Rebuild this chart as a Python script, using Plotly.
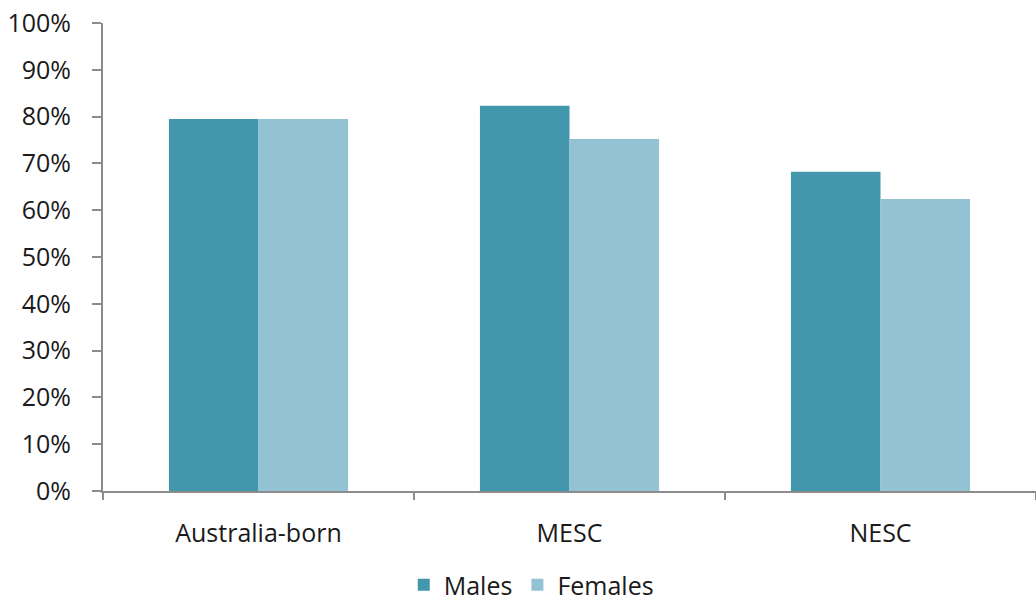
import plotly.graph_objects as go

categories = ["Australia-born", "MESC", "NESC"]
males = [79.5, 82.3, 68.2]
females = [79.5, 75.2, 62.4]
y_ticks = list(range(0, 101, 10))
y_tick_labels = [f"{v}%" for v in y_ticks]

FONT = "Open Sans, sans-serif"
TEXT = "#1a1a1a"
AXIS = "#8c8c8c"
SIZE = 25

fig = go.Figure()
fig.add_trace(go.Bar(name="Males", x=categories, y=males,
                     marker=dict(color="#4397ad", line=dict(width=0))))
fig.add_trace(go.Bar(name="Females", x=categories, y=females,
                     marker=dict(color="#93c3d3", line=dict(width=0))))

fig.update_layout(
    width=1036, height=608,
    margin=dict(l=103, r=0, t=23, b=117),
    paper_bgcolor="white", plot_bgcolor="white",
    barmode="group", bargap=0.424, bargroupgap=0,
    font=dict(family=FONT, size=SIZE, color=TEXT),
    showlegend=True,
    legend=dict(orientation="h", x=0.459, xanchor="center", y=-0.25,
                yanchor="bottom", font=dict(size=SIZE, color=TEXT),
                itemwidth=30, traceorder="normal"),
    xaxis=dict(showline=True, linecolor=AXIS, linewidth=2,
               ticks="outside", tickson="boundaries", ticklen=7,
               tickcolor=AXIS, tickwidth=2, showgrid=False,
               ticklabelstandoff=19, tickfont=dict(size=SIZE, color=TEXT)),
    yaxis=dict(range=[0, 100], tickvals=y_ticks, ticktext=y_tick_labels,
               showline=True, linecolor=AXIS, linewidth=2,
               ticks="outside", ticklen=9, tickcolor=AXIS, tickwidth=2,
               showgrid=False, zeroline=False, ticklabelstandoff=16,
               tickfont=dict(size=SIZE, color=TEXT)),
)

fig.write_html("out.html")
